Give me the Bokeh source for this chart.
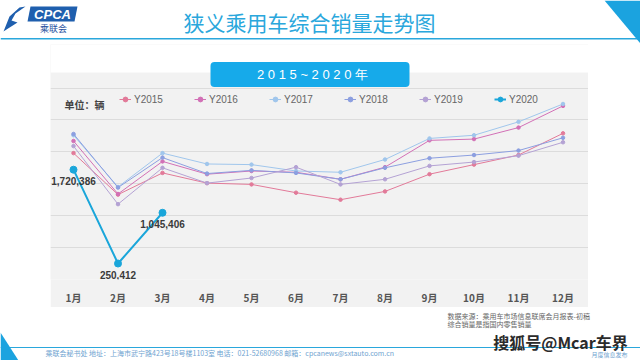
from bokeh.plotting import figure
from bokeh.layouts import column, row
from bokeh.models import (Range1d, LinearAxis, Grid, FixedTicker, Legend, Spacer,
                          LegendItem, Label, BoxAnnotation, ColumnDataSource)
from bokeh.embed import file_html
from bokeh.resources import INLINE
from bokeh.core.properties import value

# ---------------- data ----------------
months = ["1月", "2月", "3月", "4月", "5月", "6月", "7月", "8月", "9月", "10月", "11月", "12月"]
y2015 = [1980000, 1330000, 1670000, 1510000, 1490000, 1360000, 1250000, 1380000, 1650000, 1800000, 1950000, 2290000]
y2016 = [2170000, 1340000, 1850000, 1650000, 1700000, 1680000, 1570000, 1760000, 2180000, 2200000, 2380000, 2720000]
y2017 = [2260000, 1450000, 1980000, 1810000, 1800000, 1700000, 1680000, 1880000, 2210000, 2260000, 2470000, 2750000]
y2018 = [2280000, 1440000, 1910000, 1660000, 1710000, 1670000, 1570000, 1750000, 1900000, 1950000, 2020000, 2220000]
y2019 = [2090000, 1180000, 1750000, 1510000, 1590000, 1760000, 1490000, 1570000, 1780000, 1840000, 1940000, 2150000]
y2020 = [1720386, 250412, 1045406]
series_names = ["Y2015", "Y2016", "Y2017", "Y2018", "Y2019", "Y2020"]
y_ticks = [0, 500000, 1000000, 1500000, 2000000, 2500000, 3000000]

colors = ["#e27a99", "#d270b6", "#a0c6ec", "#8c9fe0", "#b4a2d4", "#1aa6da"]
CJK = "Noto Sans CJK SC"
GRAY = "#f2f2f2"

mx = list(range(len(months)))  # month positions on the x scale


# ---------------- decoration figures (pixel coordinates) ----------------
def deco_fig(h, y_top, y_bottom):
    f = figure(width=640, height=h, output_backend="svg", toolbar_location=None,
               x_range=Range1d(0, 640), y_range=Range1d(y_bottom, y_top),
               x_axis_location=None, y_axis_location=None, min_border=0,
               outline_line_color=None, background_fill_color="white", border_fill_color="white")
    f.xgrid.visible = False
    f.ygrid.visible = False
    return f


def txt(f, s, x, y, size, color, align="left", style="normal", font=CJK):
    f.text(x=[x], y=[y], text=[s], text_font=value(font), text_font_size=f"{size}px",
           text_color=color, text_align=align, text_baseline="middle", text_font_style=style)


# header: page y 0..44
head = deco_fig(44, 0, 44)
txt(head, "狭义乘用车综合销量走势图", 309, 21, 21, "#2aa7dc", align="center")
head.quad(left=[0], right=[640], top=[37.5], bottom=[39], fill_color="#2aa7dc", line_color=None)
head.patch([604, 640, 640], [0, 0, 43], fill_color="#1ba3df", line_color=None)
head.patch([3, 9, 19, 25, 15, 11, 17, 6], [31, 16, 7, 6, 13, 20, 22, 29], fill_color="#1f5fae", line_color=None)
head.patch([30, 77, 74, 27], [6, 6, 21, 21], fill_color="#1f5fae", line_color=None)
txt(head, "CPCA", 52, 13.5, 13, "white", align="center", style="bold italic", font="Liberation Sans")
txt(head, "乘联会", 53, 28, 9, "#1f4f9e", align="center")

# footer: page y 307..360
foot = deco_fig(53, 307, 360)
txt(foot, "数据来源：乘用车市场信息联席会月报表-初稿", 447, 315, 7, "#666666")
txt(foot, "综合销量是指国内零售销量", 447, 323, 7, "#666666")
foot.quad(left=[0], right=[640], top=[346.5], bottom=[347.5], fill_color="#2aa7dc", line_color=None)
foot.patch([0, 18, 0], [332, 360, 360], fill_color="#1ba3df", line_color=None)
txt(foot, "乘联会秘书处  地址：上海市武宁路423号18号楼1103室  电话：021-52680968  邮箱：cpcanews@sxtauto.com.cn",
    45, 352, 7, "#6fa3d0")
txt(foot, "月度信息发布", 627, 354, 6, "#6fa3d0", align="right")
txt(foot, "搜狐号@Mcar车界", 560, 341, 16, "#2b2b2b", align="center", style="bold")

# ---------------- chart: frame page x 50..588, y 44..287 ----------------
p = figure(width=538, height=263, output_backend="svg", toolbar_location=None,
           x_range=Range1d(-0.517, 11.573),
           y_range=Range1d(0, 3681818),
           x_axis_location=None, y_axis_location=None,
           min_border_left=0, min_border_right=0, min_border_top=0, min_border_bottom=20,
           background_fill_color=GRAY, border_fill_color=GRAY, outline_line_color=None)
p.xgrid.visible = False
p.ygrid.visible = False

p.extra_x_ranges = {"px": Range1d(50, 588)}
p.extra_y_ranges = {"py": Range1d(287, 44)}

# white band above the gray panel
p.add_layout(BoxAnnotation(left=50, right=588, top=44, bottom=73, x_range_name="px", y_range_name="py",
                           fill_color="white", fill_alpha=1, line_color=None, level="image"))

p.add_layout(Grid(dimension=1, ticker=FixedTicker(ticks=y_ticks),
                  grid_line_color="#dcdcdc", grid_line_width=1))

xaxis = LinearAxis(ticker=FixedTicker(ticks=mx),
                   major_label_overrides={i: m for i, m in zip(mx, months)},
                   axis_line_color=None, major_tick_line_color=None, minor_tick_line_color=None,
                   major_label_text_font=CJK, major_label_text_font_size="10px",
                   major_label_text_font_style="bold", major_label_text_color="#555555",
                   major_label_standoff=4)
p.add_layout(xaxis, "below")

items = []
all_series = [y2015, y2016, y2017, y2018, y2019]
for name, ys, col in zip(series_names[:5], all_series, colors[:5]):
    r1 = p.line(mx, ys, line_color=col, line_width=1)
    r2 = p.scatter(mx, ys, marker="circle", size=3.5, fill_color=col, line_color=col)
    items.append(LegendItem(label=name, renderers=[r1, r2]))

x20 = mx[:len(y2020)]
r1 = p.line(x20, y2020, line_color=colors[5], line_width=2)
r2 = p.scatter(x20, y2020, marker="circle", size=7, fill_color=colors[5], line_color=colors[5])
items.append(LegendItem(label=series_names[5], renderers=[r1, r2]))

src20 = ColumnDataSource(dict(x=x20, y=y2020, t=[f"{v:,}" for v in y2020]))
p.text(x="x", y="y", text="t", source=src20, text_align="center", text_baseline="middle",
       y_offset=11, text_font_size="10px", text_font_style="bold", text_color="#3a3a3a",
       text_font=value("Liberation Sans"))

legend = Legend(items=items, orientation="horizontal", location=(69, 174),
                padding=0, margin=0, spacing=4, glyph_width=12, glyph_height=12,
                label_standoff=3, label_width=56, label_height=12,
                label_text_font="Liberation Sans", label_text_font_size="10px",
                label_text_color="#666666", background_fill_alpha=0, border_line_color=None)
p.add_layout(legend, "center")

p.add_layout(Label(x=64, y=106, x_range_name="px", y_range_name="py", text="单位：辆",
                   text_font=CJK, text_font_size="10px", text_color="#444444",
                   text_baseline="middle", text_font_style="bold"))

# badge
p.add_layout(BoxAnnotation(left=210, right=409, top=62, bottom=88, x_range_name="px", y_range_name="py",
                           fill_color="#16aaea", fill_alpha=1, line_color=None, border_radius=4))
p.add_layout(Label(x=312, y=75, x_range_name="px", y_range_name="py", text="2 0 1 5 ~ 2 0 2 0 年",
                   text_font="Liberation Sans", text_font_size="13px", text_color="white",
                   text_align="center", text_baseline="middle"))

layout = column(head,
                row(Spacer(width=50, height=263), p, Spacer(width=52, height=263), spacing=0),
                foot, spacing=0)

open("out.html", "w").write(file_html(layout, INLINE))
